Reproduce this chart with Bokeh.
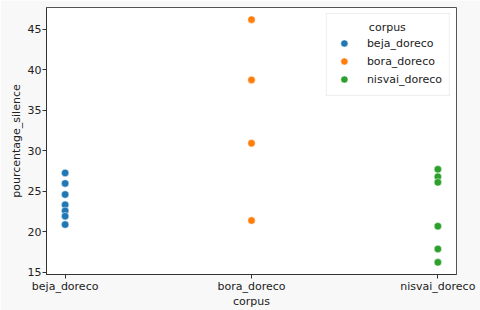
from bokeh.plotting import figure
from bokeh.models import ColumnDataSource, FixedTicker, Range1d, Legend, LegendItem
from bokeh.embed import file_html
from bokeh.resources import INLINE

categories = ["beja_doreco", "bora_doreco", "nisvai_doreco"]
colors = ["#1f77b4", "#ff7f0e", "#2ca02c"]
beja_values = [27.25, 25.96, 24.59, 23.31, 22.57, 21.91, 20.87]
bora_values = [46.2, 38.75, 30.93, 21.37]
nisvai_values = [27.7, 26.79, 26.09, 20.67, 17.85, 16.2]
series = [beja_values, bora_values, nisvai_values]
y_ticks = [15, 20, 25, 30, 35, 40, 45]

FONT = "DejaVu Sans"
p = figure(width=480, height=310, output_backend="svg", toolbar_location=None,
           x_range=Range1d(-0.1, 2.1), y_range=Range1d(14.7, 47.7),
           min_border_left=46, min_border_right=24, min_border_top=7, min_border_bottom=0)
p.background_fill_color = "white"
p.border_fill_color = "#f8f8f8"
p.outline_line_color = "#555555"
p.outline_line_width = 1
p.grid.visible = False

items = []
for i, (cat, vals) in enumerate(zip(categories, series)):
    src = ColumnDataSource(dict(x=[i] * len(vals), y=vals))
    r = p.scatter("x", "y", source=src, size=7.5, fill_color=colors[i],
                  line_color="white", line_width=0.5)
    items.append(LegendItem(label=cat, renderers=[r]))

legend = Legend(items=items, location="top_right", title="\u00a0" * 10 + "corpus",
                label_text_font=FONT, label_text_font_size="11px",
                title_text_font=FONT, title_text_font_size="11px",
                title_text_font_style="normal", title_text_color="#222222",
                label_text_color="#222222",
                border_line_color="#dddddd", border_line_width=1,
                background_fill_alpha=0.8, glyph_width=20, glyph_height=18,
                label_height=18, spacing=0, padding=7, margin=6, label_standoff=13)
legend.title_standoff = 0
p.add_layout(legend)

p.xaxis.ticker = FixedTicker(ticks=[0, 1, 2])
p.xaxis.major_label_overrides = {0: categories[0], 1: categories[1], 2: categories[2]}
p.yaxis.ticker = FixedTicker(ticks=y_ticks)
p.xaxis.axis_label = "corpus"
p.yaxis.axis_label = "pourcentage_silence"
for ax in (p.xaxis[0], p.yaxis[0]):
    ax.axis_label_text_font = FONT
    ax.axis_label_text_font_size = "11px"
    ax.axis_label_text_font_style = "normal"
    ax.axis_label_text_color = "#222222"
    ax.axis_label_text_line_height = 1.0
    ax.major_label_text_font = FONT
    ax.major_label_text_font_size = "11px"
    ax.major_label_text_color = "#222222"
    ax.major_label_text_line_height = 1.0
    ax.minor_tick_line_color = None
    ax.major_tick_in = 0
    ax.major_tick_out = 4
    ax.axis_line_color = "#333333"
    ax.major_tick_line_color = "#333333"
    ax.major_label_standoff = 1
p.xaxis.axis_label_standoff = -1
p.yaxis.axis_label_standoff = 2

open("out.html", "w").write(file_html(p, INLINE))
